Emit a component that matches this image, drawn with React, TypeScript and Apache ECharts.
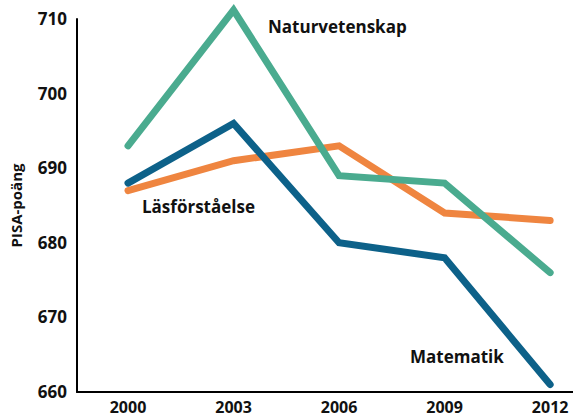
import React, { useEffect, useRef } from "react";
import * as echarts from "echarts";

const years = [2000, 2003, 2006, 2009, 2012];
const naturvetenskap = [693, 711.2, 689, 688, 676];
const matematik = [688, 696, 680, 678, 661];
const lasforstaelse = [687, 691, 693, 684, 683];
const yTicks = [660, 670, 680, 690, 700, 710];

const FONT = "'Open Sans', Lato, sans-serif";

export default function App() {
  const ref = useRef<HTMLDivElement>(null);
  useEffect(() => {
    if (!ref.current) return;
    const chart = echarts.init(ref.current, null, { renderer: "svg" });
    const pair = (arr: number[]) => years.map((y, i) => [y, arr[i]]);
    const lineSeries = (name: string, arr: number[], color: string, z: number) => ({
      type: "line",
      name,
      data: pair(arr),
      showSymbol: false,
      symbol: "none",
      z,
      lineStyle: { color, width: 7, cap: "round", join: "miter" },
      clip: false,
    });
    chart.setOption({
      animation: false,
      grid: { left: 76, right: 0, top: 19, bottom: 28 },
      xAxis: {
        type: "value",
        min: 1998.55,
        max: 2012.65,
        axisLine: { show: true, lineStyle: { color: "#000", width: 2 } },
        axisTick: { show: false },
        splitLine: { show: false },
        axisLabel: {
          customValues: years,
          formatter: (v: number) => String(v),
          color: "#111",
          fontFamily: FONT,
          fontWeight: "bold",
          fontSize: 16,
          margin: 7,
        },
      },
      yAxis: {
        type: "value",
        min: 660,
        max: 710,
        interval: 10,
        name: "PISA-poäng",
        nameLocation: "middle",
        nameGap: 54,
        nameRotate: 90,
        nameTextStyle: { color: "#111", fontFamily: FONT, fontWeight: "bold", fontSize: 15 },
        axisLine: { show: true, lineStyle: { color: "#000", width: 2 } },
        axisTick: { show: false },
        splitLine: { show: false },
        axisLabel: {
          customValues: yTicks,
          color: "#111",
          fontFamily: FONT,
          fontWeight: "bold",
          fontSize: 17,
          margin: 10,
          verticalAlign: "top",
          padding: [-9, 0, 0, 0],
        },
      },
      series: [
        lineSeries("Läsförståelse", lasforstaelse, "#ef8540", 3),
        lineSeries("Naturvetenskap", naturvetenskap, "#4aab8f", 4),
        lineSeries("Matematik", matematik, "#0d6189", 5),
      ],
      graphic: [
        { type: "text", left: 268, top: 18, style: { text: "Naturvetenskap", fill: "#111", font: `bold 17px ${FONT}` } },
        { type: "text", left: 142, top: 198, style: { text: "Läsförståelse", fill: "#111", font: `bold 17px ${FONT}` } },
        { type: "text", left: 410, top: 348, style: { text: "Matematik", fill: "#111", font: `bold 17px ${FONT}` } },
      ],
    });
    return () => chart.dispose();
  }, []);
  return <div ref={ref} style={{ width: 573, height: 420, position: "absolute", left: 0, top: 0, background: "#fff" }} />;
}
